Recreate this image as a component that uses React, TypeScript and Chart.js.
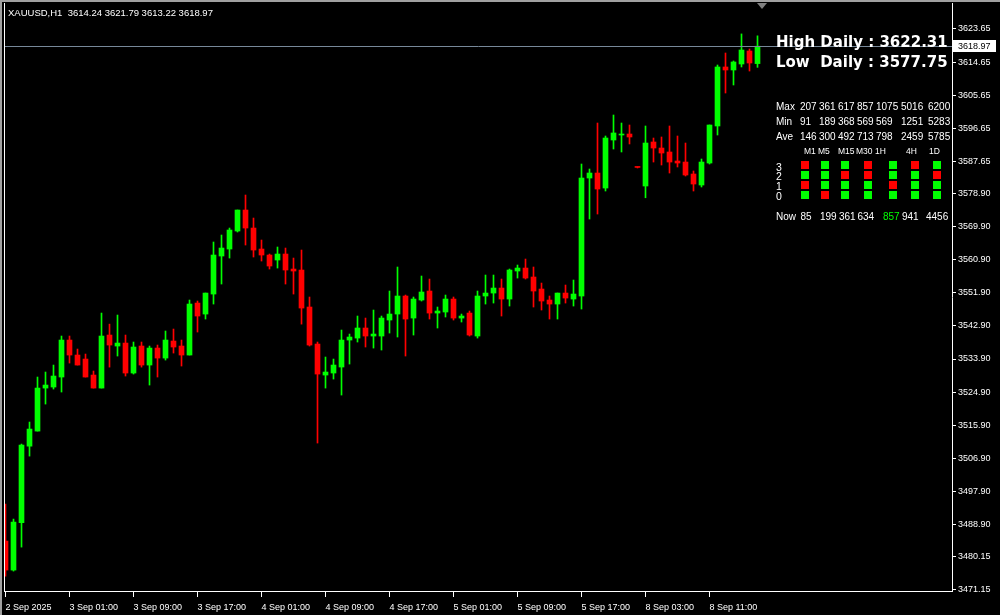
import React, { useEffect, useRef } from "react";
import { Chart, registerables } from "chart.js";

Chart.register(...registerables);

// ---- OHLC data (XAUUSD H1), bar 0 = 2 Sep 16:00 ----
const opens = [
  3484.39, 3476.5, 3489.4, 3510.2, 3514.3, 3526.0, 3526.28, 3529.0, 3539.06, 3534.98,
  3533.89, 3529.54, 3526.0, 3540.42, 3537.43, 3538.24, 3530.09, 3537.43, 3532.26, 3536.88,
  3534.16, 3538.79, 3537.43, 3534.98, 3549.12, 3546.13, 3551.57, 3561.91, 3563.81, 3568.71,
  3574.42, 3569.52, 3563.81, 3562.18, 3560.82, 3562.45, 3558.37, 3558.1, 3548.04, 3537.97,
  3529.54, 3530.09, 3531.72, 3539.06, 3539.6, 3542.33, 3540.15, 3540.15, 3544.5, 3546.13,
  3551.03, 3545.04, 3549.94, 3552.39, 3546.4, 3546.68, 3550.21, 3545.04, 3546.4, 3540.15,
  3551.03, 3551.84, 3553.2, 3550.21, 3557.83, 3558.64, 3556.2, 3552.93, 3549.94, 3548.85,
  3551.84, 3550.21, 3551.03, 3583.12, 3584.48, 3580.4, 3593.46, 3594.82, 3595.09, 3586.12,
  3580.95, 3592.92, 3591.28, 3590.2, 3587.75, 3587.47, 3584.21, 3581.22, 3587.2, 3597.27,
  3613.32, 3612.5, 3614.13, 3617.67, 3614.24,
];
const highs = [
  3494.45, 3490.37, 3510.77, 3516.76, 3529.0, 3530.36, 3532.26, 3540.15, 3540.15, 3536.61,
  3535.25, 3530.63, 3546.4, 3543.39, 3545.86, 3540.42, 3538.52, 3538.52, 3537.43, 3537.7,
  3541.51, 3542.05, 3539.06, 3549.94, 3549.67, 3551.84, 3565.72, 3567.62, 3569.52, 3574.42,
  3578.5, 3572.24, 3566.26, 3562.45, 3564.36, 3564.08, 3561.36, 3563.54, 3550.76, 3538.52,
  3534.44, 3533.89, 3541.78, 3540.69, 3545.59, 3545.04, 3547.22, 3545.59, 3552.39, 3558.92,
  3551.3, 3550.76, 3556.47, 3555.65, 3548.04, 3551.3, 3550.76, 3546.13, 3546.95, 3552.39,
  3556.74, 3556.74, 3555.65, 3558.37, 3559.46, 3561.09, 3558.92, 3554.56, 3551.03, 3551.84,
  3554.02, 3555.38, 3586.93, 3585.57, 3598.08, 3594.55, 3600.26, 3598.08, 3597.54, 3586.12,
  3597.27, 3594.0, 3594.28, 3597.27, 3594.55, 3592.64, 3585.03, 3588.29, 3597.54, 3613.86,
  3617.12, 3614.95, 3622.31, 3618.21, 3621.79,
];
const lows = [
  3474.87, 3476.23, 3482.75, 3507.5, 3514.3, 3521.65, 3525.73, 3524.92, 3532.8, 3532.26,
  3529.0, 3526.0, 3526.0, 3531.7, 3534.71, 3529.27, 3529.81, 3531.7, 3526.82, 3529.0,
  3533.62, 3535.52, 3531.99, 3534.98, 3541.24, 3544.77, 3548.85, 3554.29, 3561.36, 3568.44,
  3564.9, 3561.64, 3560.55, 3558.37, 3558.64, 3554.29, 3551.57, 3543.39, 3537.43, 3511.05,
  3526.0, 3528.45, 3524.1, 3532.53, 3538.52, 3537.16, 3536.88, 3536.34, 3540.96, 3539.88,
  3534.71, 3540.42, 3549.67, 3544.77, 3542.33, 3545.32, 3544.5, 3543.96, 3540.15, 3539.6,
  3548.85, 3549.12, 3545.59, 3548.31, 3555.92, 3555.65, 3548.04, 3547.22, 3544.77, 3544.77,
  3549.12, 3548.31, 3547.49, 3571.97, 3573.33, 3579.59, 3591.01, 3590.2, 3592.38, 3585.85,
  3577.75, 3587.47, 3586.66, 3584.48, 3586.12, 3583.67, 3579.59, 3580.68, 3586.93, 3594.82,
  3606.24, 3608.42, 3613.32, 3612.22, 3613.22,
];
const closes = [
  3476.5, 3489.55, 3510.5, 3514.85, 3526.0, 3526.82, 3529.27, 3539.06, 3534.98, 3532.26,
  3529.0, 3526.0, 3540.15, 3537.7, 3538.24, 3530.09, 3537.16, 3532.26, 3536.88, 3534.16,
  3539.06, 3537.16, 3534.98, 3548.85, 3545.59, 3551.84, 3562.18, 3564.08, 3568.98, 3574.42,
  3569.52, 3563.54, 3562.18, 3559.19, 3562.45, 3558.1, 3557.83, 3547.76, 3537.7, 3529.81,
  3530.36, 3532.26, 3539.06, 3539.88, 3542.33, 3540.15, 3540.69, 3545.04, 3546.13, 3551.03,
  3544.77, 3550.21, 3552.12, 3546.4, 3546.95, 3550.21, 3545.04, 3545.59, 3540.42, 3551.03,
  3551.84, 3553.2, 3550.21, 3558.1, 3558.64, 3555.92, 3552.39, 3549.67, 3548.85, 3551.84,
  3550.48, 3551.57, 3583.12, 3584.48, 3580.13, 3594.0, 3595.37, 3595.09, 3594.28, 3586.0,
  3592.64, 3591.28, 3589.92, 3587.47, 3587.2, 3583.94, 3581.49, 3587.47, 3597.54, 3613.32,
  3612.5, 3614.68, 3617.94, 3614.4, 3618.97,
];

// ---- axes ----
const timeTickIndex = [0, 8, 16, 24, 32, 40, 48, 56, 64, 72, 80, 88];
const timeTickLabels = [
  "2 Sep 2025", "3 Sep 01:00", "3 Sep 09:00", "3 Sep 17:00", "4 Sep 01:00", "4 Sep 09:00",
  "4 Sep 17:00", "5 Sep 01:00", "5 Sep 09:00", "5 Sep 17:00", "8 Sep 03:00", "8 Sep 11:00",
];
const priceTicks = [
  3471.15, 3480.15, 3488.9, 3497.9, 3506.9, 3515.9, 3524.9, 3533.9, 3542.9, 3551.9,
  3560.9, 3569.9, 3578.9, 3587.65, 3596.65, 3605.65, 3614.65, 3623.65,
];
const priceMin = 3470.81;
const priceMax = 3630.72;
const barMin = -0.0625;
const barMax = 118.3125;

// ---- header / info panel ----
const symbolTitle = "XAUUSD,H1";
const highDaily = "3622.31";
const lowDaily = "3577.75";
const rowNames = ["Max", "Min", "Ave"];
const maxValues = ["207", "361", "617", "857", "1075", "5016", "6200"];
const minValues = ["91", "189", "368", "569", "569", "1251", "5283"];
const aveValues = ["146", "300", "492", "713", "798", "2459", "5785"];
const timeframes = ["M1", "M5", "M15", "M30", "1H", "4H", "1D"];
const levelNames = ["3", "2", "1", "0"];
// 1 = green, 0 = red ; rows 3,2,1,0 ; columns M1..1D
const levelSignals = [
  [0, 1, 1, 0, 1, 0, 1],
  [1, 1, 0, 0, 1, 1, 0],
  [0, 1, 1, 1, 0, 1, 1],
  [1, 0, 1, 1, 1, 1, 1],
];
const nowValues = ["85", "199", "361", "634", "857", "941", "4456"];
const nowHighlight = [false, false, false, false, true, false, false];

const UP = "#00ff00";
const DOWN = "#ff0000";

const decorPlugin = {
  id: "mtDecor",
  beforeDraw(chart: any) {
    const { ctx, width, height, chartArea } = chart;
    ctx.save();
    ctx.fillStyle = "#000";
    ctx.fillRect(0, 0, width, height);
    ctx.fillStyle = "#a0a0a0";
    ctx.fillRect(0, 0, width, 2);
    ctx.fillRect(0, 0, 2, height);
    ctx.fillStyle = "#ffffff";
    ctx.fillRect(chartArea.left - 1, chartArea.top, 1, chartArea.bottom - chartArea.top + 1);
    ctx.restore();
  },
  afterDatasetsDraw(chart: any) {
    const { ctx, chartArea, scales } = chart;
    const last = closes[closes.length - 1];
    const y = Math.round(scales.y.getPixelForValue(last)) + 0.5;
    ctx.save();
    ctx.strokeStyle = "#778899";
    ctx.lineWidth = 1;
    ctx.beginPath();
    ctx.moveTo(chartArea.left, y);
    ctx.lineTo(chartArea.right, y);
    ctx.stroke();
    // price label on the axis
    ctx.fillStyle = "#ffffff";
    ctx.fillRect(chartArea.right + 1, y - 6.5, 43, 12);
    ctx.fillStyle = "#000000";
    ctx.font = "9px 'Liberation Sans'";
    ctx.textBaseline = "middle";
    ctx.textAlign = "left";
    ctx.fillText(last.toFixed(2), chartArea.right + 6, y);
    // chart shift marker
    ctx.fillStyle = "#808080";
    ctx.beginPath();
    ctx.moveTo(757, 3);
    ctx.lineTo(767, 3);
    ctx.lineTo(762, 9);
    ctx.closePath();
    ctx.fill();
    ctx.restore();
  },
};

function Txt(props: {
  x: number;
  base: number;
  size: number;
  family?: string;
  bold?: boolean;
  color?: string;
  children: React.ReactNode;
}) {
  const { x, base, size, family, bold, color, children } = props;
  return (
    <div
      style={{
        position: "absolute",
        left: x,
        top: base - 0.85 * size,
        fontSize: size,
        lineHeight: size + "px",
        fontFamily: family || "'Liberation Sans', Arial, sans-serif",
        fontWeight: bold ? "bold" : "normal",
        color: color || "#ffffff",
        whiteSpace: "pre",
      }}
    >
      {children}
    </div>
  );
}

const colX = [800, 819, 838, 857, 876, 901, 928];
const hdrX = [804, 818, 838, 856, 875, 906, 929];
const sqX = [801, 821, 841, 864, 889, 911, 933];
const nowX = [800.5, 820, 839, 857.5, 883, 902, 926];

export default function App() {
  const ref = useRef<HTMLCanvasElement>(null);

  useEffect(() => {
    const idx = closes.map((_, i) => i);
    const colors = closes.map((c, i) => (c >= opens[i] ? UP : DOWN));
    const chart = new Chart(ref.current as HTMLCanvasElement, {
      type: "bar",
      data: {
        datasets: [
          {
            label: "body",
            data: idx.map((i) => ({ x: i, y: [opens[i], closes[i]] })) as any,
            backgroundColor: colors,
            borderWidth: 0,
            barThickness: 5,
            minBarLength: 1,
            grouped: false,
            order: 1,
          } as any,
          {
            label: "wick",
            data: idx.map((i) => ({ x: i, y: [lows[i], highs[i]] })) as any,
            backgroundColor: colors,
            borderWidth: 0,
            barThickness: 1,
            minBarLength: 1,
            grouped: false,
            order: 2,
          } as any,
        ],
      },
      options: {
        animation: false,
        responsive: false,
        maintainAspectRatio: false,
        layout: { padding: { left: 5, top: 3, right: 0, bottom: 0 } },
        plugins: {
          legend: { display: false },
          tooltip: { enabled: false },
          title: { display: false },
        },
        scales: {
          x: {
            type: "linear",
            min: barMin,
            max: barMax,
            offset: false,
            bounds: "data",
            grid: {
              display: true,
              drawOnChartArea: false,
              drawTicks: true,
              tickLength: 6,
              color: "#ffffff",
              offset: false,
            },
            border: { display: true, color: "#ffffff" },
            ticks: {
              color: "#ffffff",
              font: { family: "'Liberation Sans'", size: 9 },
              align: "start",
              maxRotation: 0,
              minRotation: 0,
              autoSkip: false,
              padding: 5,
              callback: (v: any) => {
                const k = timeTickIndex.indexOf(Number(v));
                return k >= 0 ? timeTickLabels[k] : "";
              },
            },
            afterBuildTicks: (s: any) => {
              s.ticks = timeTickIndex.map((v) => ({ value: v }));
            },
            afterFit: (s: any) => {
              s.height = 24;
              s.paddingLeft = 0;
              s.paddingRight = 0;
            },
          },
          y: {
            type: "linear",
            position: "right",
            min: priceMin,
            max: priceMax,
            bounds: "data",
            grid: {
              display: true,
              drawOnChartArea: false,
              drawTicks: true,
              tickLength: 4,
              color: "#ffffff",
            },
            border: { display: true, color: "#ffffff" },
            ticks: {
              color: "#ffffff",
              font: { family: "'Liberation Sans'", size: 9 },
              padding: 2,
              callback: (v: any) => Number(v).toFixed(2),
            },
            afterBuildTicks: (s: any) => {
              s.ticks = priceTicks.map((v) => ({ value: v }));
            },
            afterFit: (s: any) => {
              s.width = 48;
              s.paddingTop = 0;
              s.paddingBottom = 0;
            },
          },
        },
      } as any,
      plugins: [decorPlugin],
    });
    return () => chart.destroy();
  }, []);

  const last = closes.length - 1;
  const header = `${symbolTitle}  ${opens[last].toFixed(2)} ${highs[last].toFixed(2)} ${lows[last].toFixed(2)} ${closes[last].toFixed(2)}`;
  const tableRows = [maxValues, minValues, aveValues];

  return (
    <div style={{ position: "relative", width: 1000, height: 615, background: "#000", overflow: "hidden" }}>
      <style>{"body{margin:0;background:#000}"}</style>
      <canvas ref={ref} width={1000} height={615} style={{ display: "block", width: 1000, height: 615 }} />
      <div style={{ position: "absolute", left: 0, top: 0, width: 951, height: 590, overflow: "hidden" }}>
        <Txt x={8} base={16.5} size={9.5}>{header}</Txt>
        <Txt x={776} base={47.5} size={15} bold family="'DejaVu Sans', sans-serif">{`High Daily : ${highDaily}`}</Txt>
        <Txt x={776} base={68} size={15} bold family="'DejaVu Sans', sans-serif">{`Low  Daily : ${lowDaily}`}</Txt>
        {tableRows.map((vals, r) => (
          <React.Fragment key={"r" + r}>
            <Txt x={776} base={110 + r * 15} size={10}>{rowNames[r]}</Txt>
            {vals.map((v, c) => (
              <Txt key={c} x={colX[c]} base={110 + r * 15} size={10}>{v}</Txt>
            ))}
          </React.Fragment>
        ))}
        {timeframes.map((t, c) => (
          <Txt key={"h" + c} x={hdrX[c]} base={154.5} size={8.5}>{t}</Txt>
        ))}
        {levelNames.map((l, r) => (
          <React.Fragment key={"l" + r}>
            <Txt x={776} base={170.5 + r * 9.8} size={10.5}>{l}</Txt>
            {levelSignals[r].map((s, c) => (
              <div
                key={c}
                style={{
                  position: "absolute",
                  left: sqX[c],
                  top: 161 + r * 10,
                  width: 8,
                  height: 8,
                  background: s ? UP : DOWN,
                }}
              />
            ))}
          </React.Fragment>
        ))}
        <Txt x={776} base={220} size={10}>Now</Txt>
        {nowValues.map((v, c) => (
          <Txt key={"n" + c} x={nowX[c]} base={220} size={10} color={nowHighlight[c] ? UP : "#ffffff"}>{v}</Txt>
        ))}
      </div>
    </div>
  );
}
